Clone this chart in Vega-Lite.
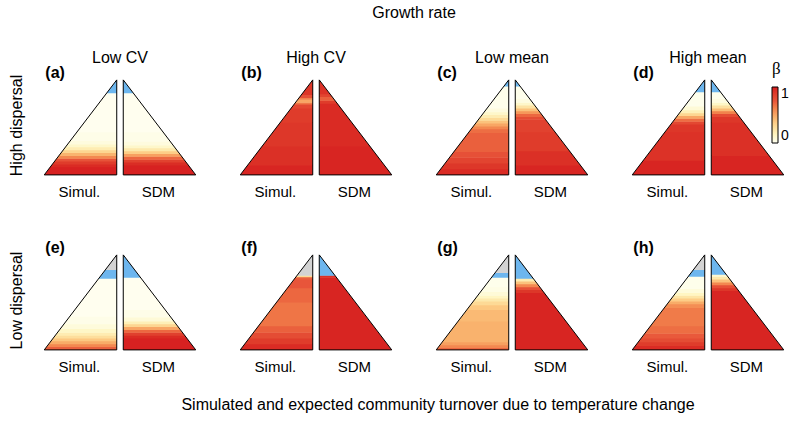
{
  "$schema": "https://vega.github.io/schema/vega-lite/v6.json",
  "padding": {"left": 8, "top": 5, "right": 5, "bottom": 5},
  "bounds": "flush",
  "config": {"font": "Liberation Sans", "view": {"stroke": null}},
  "datasets": {
    "panels": [
      {"p": "(a)", "col": "Low CV", "row": "High dispersal"},
      {"p": "(b)", "col": "High CV", "row": "High dispersal"},
      {"p": "(c)", "col": "Low mean", "row": "High dispersal"},
      {"p": "(d)", "col": "High mean", "row": "High dispersal"},
      {"p": "(e)", "col": "Low CV", "row": "Low dispersal"},
      {"p": "(f)", "col": "High CV", "row": "Low dispersal"},
      {"p": "(g)", "col": "Low mean", "row": "Low dispersal"},
      {"p": "(h)", "col": "High mean", "row": "Low dispersal"}
    ],
    "bands": [
      {"p": "(a)", "s": "Simul.", "y": 0, "y2": 0.08, "b": 0.98},
      {"p": "(a)", "s": "Simul.", "y": 0.08, "y2": 0.11, "b": 0.95},
      {"p": "(a)", "s": "Simul.", "y": 0.11, "y2": 0.14, "b": 0.88},
      {"p": "(a)", "s": "Simul.", "y": 0.14, "y2": 0.17, "b": 0.76},
      {"p": "(a)", "s": "Simul.", "y": 0.17, "y2": 0.2, "b": 0.6},
      {"p": "(a)", "s": "Simul.", "y": 0.2, "y2": 0.23, "b": 0.45},
      {"p": "(a)", "s": "Simul.", "y": 0.23, "y2": 0.26, "b": 0.32},
      {"p": "(a)", "s": "Simul.", "y": 0.26, "y2": 0.29, "b": 0.2},
      {"p": "(a)", "s": "Simul.", "y": 0.29, "y2": 0.32, "b": 0.12},
      {"p": "(a)", "s": "Simul.", "y": 0.32, "y2": 0.36, "b": 0.06},
      {"p": "(a)", "s": "Simul.", "y": 0.36, "y2": 0.45, "b": 0.03},
      {"p": "(a)", "s": "Simul.", "y": 0.45, "y2": 0.86, "b": 0.01},
      {"p": "(a)", "s": "Simul.", "y": 0.86, "y2": 1, "c": "beyond range"},
      {"p": "(a)", "s": "SDM", "y": 0, "y2": 0.1, "b": 0.98},
      {"p": "(a)", "s": "SDM", "y": 0.1, "y2": 0.13, "b": 0.94},
      {"p": "(a)", "s": "SDM", "y": 0.13, "y2": 0.16, "b": 0.85},
      {"p": "(a)", "s": "SDM", "y": 0.16, "y2": 0.19, "b": 0.7},
      {"p": "(a)", "s": "SDM", "y": 0.19, "y2": 0.22, "b": 0.52},
      {"p": "(a)", "s": "SDM", "y": 0.22, "y2": 0.25, "b": 0.36},
      {"p": "(a)", "s": "SDM", "y": 0.25, "y2": 0.28, "b": 0.22},
      {"p": "(a)", "s": "SDM", "y": 0.28, "y2": 0.31, "b": 0.12},
      {"p": "(a)", "s": "SDM", "y": 0.31, "y2": 0.35, "b": 0.06},
      {"p": "(a)", "s": "SDM", "y": 0.35, "y2": 0.45, "b": 0.03},
      {"p": "(a)", "s": "SDM", "y": 0.45, "y2": 0.86, "b": 0.01},
      {"p": "(a)", "s": "SDM", "y": 0.86, "y2": 1, "c": "beyond range"},
      {"p": "(b)", "s": "Simul.", "y": 0, "y2": 0.1, "b": 0.97},
      {"p": "(b)", "s": "Simul.", "y": 0.1, "y2": 0.3, "b": 0.93},
      {"p": "(b)", "s": "Simul.", "y": 0.3, "y2": 0.55, "b": 0.9},
      {"p": "(b)", "s": "Simul.", "y": 0.55, "y2": 0.7, "b": 0.88},
      {"p": "(b)", "s": "Simul.", "y": 0.7, "y2": 0.74, "b": 0.82},
      {"p": "(b)", "s": "Simul.", "y": 0.74, "y2": 0.76, "b": 0.65},
      {"p": "(b)", "s": "Simul.", "y": 0.76, "y2": 0.79, "b": 0.5},
      {"p": "(b)", "s": "Simul.", "y": 0.79, "y2": 0.81, "b": 0.62},
      {"p": "(b)", "s": "Simul.", "y": 0.81, "y2": 0.84, "b": 0.78},
      {"p": "(b)", "s": "Simul.", "y": 0.84, "y2": 1, "b": 0.9},
      {"p": "(b)", "s": "SDM", "y": 0, "y2": 0.3, "b": 0.97},
      {"p": "(b)", "s": "SDM", "y": 0.3, "y2": 0.75, "b": 0.95},
      {"p": "(b)", "s": "SDM", "y": 0.75, "y2": 0.78, "b": 0.88},
      {"p": "(b)", "s": "SDM", "y": 0.78, "y2": 0.82, "b": 0.72},
      {"p": "(b)", "s": "SDM", "y": 0.82, "y2": 0.85, "b": 0.84},
      {"p": "(b)", "s": "SDM", "y": 0.85, "y2": 1, "b": 0.92},
      {"p": "(c)", "s": "Simul.", "y": 0, "y2": 0.06, "b": 0.95},
      {"p": "(c)", "s": "Simul.", "y": 0.06, "y2": 0.12, "b": 0.9},
      {"p": "(c)", "s": "Simul.", "y": 0.12, "y2": 0.18, "b": 0.84},
      {"p": "(c)", "s": "Simul.", "y": 0.18, "y2": 0.24, "b": 0.78},
      {"p": "(c)", "s": "Simul.", "y": 0.24, "y2": 0.44, "b": 0.72},
      {"p": "(c)", "s": "Simul.", "y": 0.44, "y2": 0.48, "b": 0.68},
      {"p": "(c)", "s": "Simul.", "y": 0.48, "y2": 0.51, "b": 0.6},
      {"p": "(c)", "s": "Simul.", "y": 0.51, "y2": 0.54, "b": 0.5},
      {"p": "(c)", "s": "Simul.", "y": 0.54, "y2": 0.57, "b": 0.4},
      {"p": "(c)", "s": "Simul.", "y": 0.57, "y2": 0.6, "b": 0.3},
      {"p": "(c)", "s": "Simul.", "y": 0.6, "y2": 0.63, "b": 0.2},
      {"p": "(c)", "s": "Simul.", "y": 0.63, "y2": 0.66, "b": 0.12},
      {"p": "(c)", "s": "Simul.", "y": 0.66, "y2": 0.7, "b": 0.06},
      {"p": "(c)", "s": "Simul.", "y": 0.7, "y2": 0.93, "b": 0.02},
      {"p": "(c)", "s": "Simul.", "y": 0.93, "y2": 1, "c": "beyond range"},
      {"p": "(c)", "s": "SDM", "y": 0, "y2": 0.1, "b": 0.97},
      {"p": "(c)", "s": "SDM", "y": 0.1, "y2": 0.25, "b": 0.93},
      {"p": "(c)", "s": "SDM", "y": 0.25, "y2": 0.45, "b": 0.88},
      {"p": "(c)", "s": "SDM", "y": 0.45, "y2": 0.58, "b": 0.85},
      {"p": "(c)", "s": "SDM", "y": 0.58, "y2": 0.61, "b": 0.8},
      {"p": "(c)", "s": "SDM", "y": 0.61, "y2": 0.64, "b": 0.7},
      {"p": "(c)", "s": "SDM", "y": 0.64, "y2": 0.67, "b": 0.55},
      {"p": "(c)", "s": "SDM", "y": 0.67, "y2": 0.7, "b": 0.4},
      {"p": "(c)", "s": "SDM", "y": 0.7, "y2": 0.73, "b": 0.25},
      {"p": "(c)", "s": "SDM", "y": 0.73, "y2": 0.76, "b": 0.12},
      {"p": "(c)", "s": "SDM", "y": 0.76, "y2": 0.8, "b": 0.05},
      {"p": "(c)", "s": "SDM", "y": 0.8, "y2": 0.93, "b": 0.02},
      {"p": "(c)", "s": "SDM", "y": 0.93, "y2": 1, "c": "beyond range"},
      {"p": "(d)", "s": "Simul.", "y": 0, "y2": 0.15, "b": 0.97},
      {"p": "(d)", "s": "Simul.", "y": 0.15, "y2": 0.45, "b": 0.92},
      {"p": "(d)", "s": "Simul.", "y": 0.45, "y2": 0.53, "b": 0.9},
      {"p": "(d)", "s": "Simul.", "y": 0.53, "y2": 0.56, "b": 0.82},
      {"p": "(d)", "s": "Simul.", "y": 0.56, "y2": 0.59, "b": 0.68},
      {"p": "(d)", "s": "Simul.", "y": 0.59, "y2": 0.62, "b": 0.5},
      {"p": "(d)", "s": "Simul.", "y": 0.62, "y2": 0.65, "b": 0.32},
      {"p": "(d)", "s": "Simul.", "y": 0.65, "y2": 0.68, "b": 0.18},
      {"p": "(d)", "s": "Simul.", "y": 0.68, "y2": 0.72, "b": 0.08},
      {"p": "(d)", "s": "Simul.", "y": 0.72, "y2": 0.87, "b": 0.02},
      {"p": "(d)", "s": "Simul.", "y": 0.87, "y2": 1, "c": "beyond range"},
      {"p": "(d)", "s": "SDM", "y": 0, "y2": 0.2, "b": 0.97},
      {"p": "(d)", "s": "SDM", "y": 0.2, "y2": 0.55, "b": 0.93},
      {"p": "(d)", "s": "SDM", "y": 0.55, "y2": 0.61, "b": 0.9},
      {"p": "(d)", "s": "SDM", "y": 0.61, "y2": 0.64, "b": 0.8},
      {"p": "(d)", "s": "SDM", "y": 0.64, "y2": 0.67, "b": 0.62},
      {"p": "(d)", "s": "SDM", "y": 0.67, "y2": 0.7, "b": 0.42},
      {"p": "(d)", "s": "SDM", "y": 0.7, "y2": 0.73, "b": 0.26},
      {"p": "(d)", "s": "SDM", "y": 0.73, "y2": 0.76, "b": 0.13},
      {"p": "(d)", "s": "SDM", "y": 0.76, "y2": 0.8, "b": 0.05},
      {"p": "(d)", "s": "SDM", "y": 0.8, "y2": 0.87, "b": 0.02},
      {"p": "(d)", "s": "SDM", "y": 0.87, "y2": 1, "c": "beyond range"},
      {"p": "(e)", "s": "Simul.", "y": 0, "y2": 0.03, "b": 0.72},
      {"p": "(e)", "s": "Simul.", "y": 0.03, "y2": 0.06, "b": 0.6},
      {"p": "(e)", "s": "Simul.", "y": 0.06, "y2": 0.09, "b": 0.48},
      {"p": "(e)", "s": "Simul.", "y": 0.09, "y2": 0.12, "b": 0.38},
      {"p": "(e)", "s": "Simul.", "y": 0.12, "y2": 0.15, "b": 0.28},
      {"p": "(e)", "s": "Simul.", "y": 0.15, "y2": 0.18, "b": 0.2},
      {"p": "(e)", "s": "Simul.", "y": 0.18, "y2": 0.22, "b": 0.13},
      {"p": "(e)", "s": "Simul.", "y": 0.22, "y2": 0.27, "b": 0.07},
      {"p": "(e)", "s": "Simul.", "y": 0.27, "y2": 0.35, "b": 0.03},
      {"p": "(e)", "s": "Simul.", "y": 0.35, "y2": 0.75, "b": 0.01},
      {"p": "(e)", "s": "Simul.", "y": 0.75, "y2": 0.84, "c": "beyond range"},
      {"p": "(e)", "s": "Simul.", "y": 0.84, "y2": 1, "c": "no data"},
      {"p": "(e)", "s": "SDM", "y": 0, "y2": 0.12, "b": 0.98},
      {"p": "(e)", "s": "SDM", "y": 0.12, "y2": 0.15, "b": 0.95},
      {"p": "(e)", "s": "SDM", "y": 0.15, "y2": 0.18, "b": 0.86},
      {"p": "(e)", "s": "SDM", "y": 0.18, "y2": 0.21, "b": 0.7},
      {"p": "(e)", "s": "SDM", "y": 0.21, "y2": 0.24, "b": 0.5},
      {"p": "(e)", "s": "SDM", "y": 0.24, "y2": 0.27, "b": 0.32},
      {"p": "(e)", "s": "SDM", "y": 0.27, "y2": 0.3, "b": 0.18},
      {"p": "(e)", "s": "SDM", "y": 0.3, "y2": 0.34, "b": 0.08},
      {"p": "(e)", "s": "SDM", "y": 0.34, "y2": 0.42, "b": 0.03},
      {"p": "(e)", "s": "SDM", "y": 0.42, "y2": 0.76, "b": 0.01},
      {"p": "(e)", "s": "SDM", "y": 0.76, "y2": 1, "c": "beyond range"},
      {"p": "(f)", "s": "Simul.", "y": 0, "y2": 0.06, "b": 0.95},
      {"p": "(f)", "s": "Simul.", "y": 0.06, "y2": 0.12, "b": 0.88},
      {"p": "(f)", "s": "Simul.", "y": 0.12, "y2": 0.18, "b": 0.8},
      {"p": "(f)", "s": "Simul.", "y": 0.18, "y2": 0.25, "b": 0.72},
      {"p": "(f)", "s": "Simul.", "y": 0.25, "y2": 0.5, "b": 0.66},
      {"p": "(f)", "s": "Simul.", "y": 0.5, "y2": 0.65, "b": 0.7},
      {"p": "(f)", "s": "Simul.", "y": 0.65, "y2": 0.74, "b": 0.75},
      {"p": "(f)", "s": "Simul.", "y": 0.74, "y2": 0.765, "b": 0.72},
      {"p": "(f)", "s": "Simul.", "y": 0.765, "y2": 0.78, "b": 0.3},
      {"p": "(f)", "s": "Simul.", "y": 0.78, "y2": 1, "c": "no data"},
      {"p": "(f)", "s": "SDM", "y": 0, "y2": 0.76, "b": 0.97},
      {"p": "(f)", "s": "SDM", "y": 0.76, "y2": 0.78, "b": 0.93},
      {"p": "(f)", "s": "SDM", "y": 0.78, "y2": 1, "c": "beyond range"},
      {"p": "(g)", "s": "Simul.", "y": 0, "y2": 0.02, "b": 0.7},
      {"p": "(g)", "s": "Simul.", "y": 0.02, "y2": 0.05, "b": 0.6},
      {"p": "(g)", "s": "Simul.", "y": 0.05, "y2": 0.08, "b": 0.52},
      {"p": "(g)", "s": "Simul.", "y": 0.08, "y2": 0.3, "b": 0.46},
      {"p": "(g)", "s": "Simul.", "y": 0.3, "y2": 0.42, "b": 0.43},
      {"p": "(g)", "s": "Simul.", "y": 0.42, "y2": 0.47, "b": 0.38},
      {"p": "(g)", "s": "Simul.", "y": 0.47, "y2": 0.51, "b": 0.3},
      {"p": "(g)", "s": "Simul.", "y": 0.51, "y2": 0.54, "b": 0.22},
      {"p": "(g)", "s": "Simul.", "y": 0.54, "y2": 0.57, "b": 0.14},
      {"p": "(g)", "s": "Simul.", "y": 0.57, "y2": 0.61, "b": 0.08},
      {"p": "(g)", "s": "Simul.", "y": 0.61, "y2": 0.66, "b": 0.04},
      {"p": "(g)", "s": "Simul.", "y": 0.66, "y2": 0.76, "b": 0.02},
      {"p": "(g)", "s": "Simul.", "y": 0.76, "y2": 0.81, "c": "beyond range"},
      {"p": "(g)", "s": "Simul.", "y": 0.81, "y2": 1, "c": "no data"},
      {"p": "(g)", "s": "SDM", "y": 0, "y2": 0.6, "b": 0.97},
      {"p": "(g)", "s": "SDM", "y": 0.6, "y2": 0.63, "b": 0.9},
      {"p": "(g)", "s": "SDM", "y": 0.63, "y2": 0.66, "b": 0.78},
      {"p": "(g)", "s": "SDM", "y": 0.66, "y2": 0.69, "b": 0.6},
      {"p": "(g)", "s": "SDM", "y": 0.69, "y2": 0.72, "b": 0.4},
      {"p": "(g)", "s": "SDM", "y": 0.72, "y2": 0.75, "b": 0.2},
      {"p": "(g)", "s": "SDM", "y": 0.75, "y2": 1, "c": "beyond range"},
      {"p": "(h)", "s": "Simul.", "y": 0, "y2": 0.04, "b": 0.95},
      {"p": "(h)", "s": "Simul.", "y": 0.04, "y2": 0.08, "b": 0.88},
      {"p": "(h)", "s": "Simul.", "y": 0.08, "y2": 0.12, "b": 0.8},
      {"p": "(h)", "s": "Simul.", "y": 0.12, "y2": 0.17, "b": 0.74},
      {"p": "(h)", "s": "Simul.", "y": 0.17, "y2": 0.25, "b": 0.68},
      {"p": "(h)", "s": "Simul.", "y": 0.25, "y2": 0.44, "b": 0.64},
      {"p": "(h)", "s": "Simul.", "y": 0.44, "y2": 0.48, "b": 0.58},
      {"p": "(h)", "s": "Simul.", "y": 0.48, "y2": 0.51, "b": 0.48},
      {"p": "(h)", "s": "Simul.", "y": 0.51, "y2": 0.54, "b": 0.36},
      {"p": "(h)", "s": "Simul.", "y": 0.54, "y2": 0.57, "b": 0.24},
      {"p": "(h)", "s": "Simul.", "y": 0.57, "y2": 0.6, "b": 0.14},
      {"p": "(h)", "s": "Simul.", "y": 0.6, "y2": 0.64, "b": 0.07},
      {"p": "(h)", "s": "Simul.", "y": 0.64, "y2": 0.77, "b": 0.02},
      {"p": "(h)", "s": "Simul.", "y": 0.77, "y2": 0.84, "c": "beyond range"},
      {"p": "(h)", "s": "Simul.", "y": 0.84, "y2": 1, "c": "no data"},
      {"p": "(h)", "s": "SDM", "y": 0, "y2": 0.62, "b": 0.97},
      {"p": "(h)", "s": "SDM", "y": 0.62, "y2": 0.65, "b": 0.9},
      {"p": "(h)", "s": "SDM", "y": 0.65, "y2": 0.68, "b": 0.78},
      {"p": "(h)", "s": "SDM", "y": 0.68, "y2": 0.71, "b": 0.6},
      {"p": "(h)", "s": "SDM", "y": 0.71, "y2": 0.74, "b": 0.4},
      {"p": "(h)", "s": "SDM", "y": 0.74, "y2": 0.77, "b": 0.22},
      {"p": "(h)", "s": "SDM", "y": 0.77, "y2": 0.79, "b": 0.1},
      {"p": "(h)", "s": "SDM", "y": 0.79, "y2": 1, "c": "beyond range"}
    ]
  },
  "data": {"name": "bands"},
  "transform": [
    {"lookup": "p", "from": {"data": {"name": "panels"}, "key": "p", "fields": ["col", "row"]}}
  ],
  "facet": {
    "row": {
      "field": "row", "type": "nominal", "sort": ["High dispersal", "Low dispersal"], "title": null,
      "header": {"labelAngle": -90, "labelOrient": "left", "labelFontSize": 16, "labelPadding": 0, "labelColor": "black"}
    },
    "column": {
      "field": "col", "type": "nominal", "sort": ["Low CV", "High CV", "Low mean", "High mean"], "title": "Growth rate",
      "header": {"titleFontSize": 16, "titleFontWeight": "normal", "titleColor": "black", "titlePadding": 19, "labelFontSize": 16, "labelPadding": -7, "labelColor": "black"}
    }
  },
  "spacing": {"row": 42, "column": 22},
  "title": {"text": "Simulated and expected community turnover due to temperature change", "orient": "bottom", "anchor": "middle", "fontSize": 16, "fontWeight": "normal", "color": "black", "offset": 22, "dx": 36},
  "spec": {
    "width": 174,
    "height": 133,
    "layer": [
      {
        "transform": [
          {"filter": "isValid(datum.b)"},
          {"calculate": "[datum.y, min(datum.y2 + 0.006, 1)]", "as": "ys"},
          {"flatten": ["ys"], "as": ["yy"]},
          {"calculate": "datum.s == 'Simul.' ? -0.045 - (1 - datum.yy) : 0.045 + (1 - datum.yy)", "as": "xo"},
          {"calculate": "datum.s == 'Simul.' ? -0.045 : 0.045", "as": "xi"}
        ],
        "mark": {"type": "area", "orient": "horizontal"},
        "encoding": {
          "y": {"field": "yy", "type": "quantitative", "scale": {"domain": [-0.18, 1.22], "nice": false, "zero": false}, "axis": null},
          "x": {"field": "xo", "type": "quantitative", "scale": {"domain": [-1.2, 1.2], "nice": false, "zero": false}, "axis": null, "stack": null},
          "x2": {"field": "xi"},
          "detail": [{"field": "s"}, {"field": "y"}],
          "color": {
            "field": "b", "type": "quantitative",
            "scale": {"type": "linear", "domain": [0, 0.15, 0.35, 0.55, 0.75, 1], "range": ["#FFFFF2", "#FFF5C0", "#FDD08A", "#F6975A", "#E8553A", "#D61A1F"]},
            "legend": {
              "type": "gradient", "orient": "none", "legendX": 739, "legendY": 2, "title": "β", "titleFont": "Liberation Serif", "titleFontSize": 17, "titleFontWeight": "normal", "titleColor": "black", "titlePadding": 9,
              "values": [0, 1], "format": ".0f", "direction": "vertical", "gradientLength": 56, "gradientThickness": 6, "gradientStrokeColor": "black", "gradientStrokeWidth": 1,
              "labelFontSize": 14, "labelOffset": 3, "labelColor": "black"
            }
          }
        }
      },
      {
        "transform": [
          {"filter": "isValid(datum.c)"},
          {"calculate": "[datum.y, min(datum.y2 + 0.006, 1)]", "as": "ys"},
          {"flatten": ["ys"], "as": ["yy"]},
          {"calculate": "datum.s == 'Simul.' ? -0.045 - (1 - datum.yy) : 0.045 + (1 - datum.yy)", "as": "xo"},
          {"calculate": "datum.s == 'Simul.' ? -0.045 : 0.045", "as": "xi"}
        ],
        "mark": {"type": "area", "orient": "horizontal"},
        "encoding": {
          "y": {"field": "yy", "type": "quantitative", "scale": {"domain": [-0.18, 1.22], "nice": false, "zero": false}},
          "x": {"field": "xo", "type": "quantitative", "scale": {"domain": [-1.2, 1.2], "nice": false, "zero": false}, "stack": null},
          "x2": {"field": "xi"},
          "detail": [{"field": "s"}, {"field": "y"}],
          "fill": {"field": "c", "type": "nominal", "scale": {"domain": ["beyond range", "no data"], "range": ["#6DB6EE", "#D3D3D3"]}, "legend": null}
        }
      },
      {
        "transform": [
          {"aggregate": [{"op": "min", "field": "y", "as": "lo"}, {"op": "max", "field": "y2", "as": "hi"}], "groupby": ["p", "s", "col", "row"]},
          {"calculate": "[datum.lo, datum.hi]", "as": "ys"},
          {"flatten": ["ys"], "as": ["yy"]},
          {"calculate": "datum.s == 'Simul.' ? -0.045 - (1 - datum.yy) : 0.045 + (1 - datum.yy)", "as": "xo"},
          {"calculate": "datum.s == 'Simul.' ? -0.045 : 0.045", "as": "xi"}
        ],
        "mark": {"type": "area", "orient": "horizontal", "fill": null, "fillOpacity": 0, "stroke": "black", "strokeWidth": 1},
        "encoding": {
          "y": {"field": "yy", "type": "quantitative", "scale": {"domain": [-0.18, 1.22], "nice": false, "zero": false}},
          "x": {"field": "xo", "type": "quantitative", "scale": {"domain": [-1.2, 1.2], "nice": false, "zero": false}, "stack": null},
          "x2": {"field": "xi"},
          "detail": {"field": "s"}
        }
      },
      {
        "transform": [
          {"aggregate": [{"op": "count", "as": "n"}], "groupby": ["p", "col", "row"]}
        ],
        "mark": {"type": "text", "align": "left", "baseline": "middle", "fontSize": 16, "fontWeight": "bold", "color": "black"},
        "encoding": {
          "x": {"datum": -1.03, "type": "quantitative", "scale": {"domain": [-1.2, 1.2], "nice": false, "zero": false}},
          "y": {"datum": 1.07, "type": "quantitative", "scale": {"domain": [-0.18, 1.22], "nice": false, "zero": false}},
          "text": {"field": "p"}
        }
      },
      {
        "transform": [
          {"aggregate": [{"op": "count", "as": "n"}], "groupby": ["p", "s", "col", "row"]},
          {"calculate": "datum.s == 'Simul.' ? -0.56 : 0.53", "as": "xc"}
        ],
        "mark": {"type": "text", "align": "center", "baseline": "middle", "fontSize": 15, "color": "black"},
        "encoding": {
          "x": {"field": "xc", "type": "quantitative", "scale": {"domain": [-1.2, 1.2], "nice": false, "zero": false}},
          "y": {"datum": -0.18, "type": "quantitative", "scale": {"domain": [-0.18, 1.22], "nice": false, "zero": false}},
          "text": {"field": "s"}
        }
      }
    ]
  }
}
